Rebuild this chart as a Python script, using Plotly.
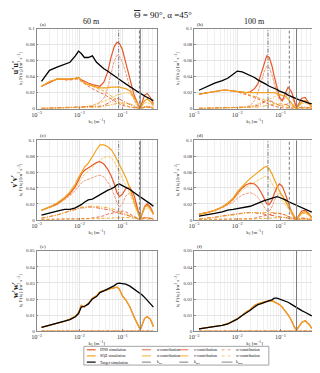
import plotly.graph_objects as go
from plotly.subplots import make_subplots

# wavenumber grids
k60 = [0.0013, 0.002, 0.003, 0.0045, 0.006, 0.008, 0.0095, 0.011, 0.013, 0.016, 0.02, 0.025, 0.03, 0.037, 0.045,
       0.055, 0.065, 0.075, 0.085, 0.1, 0.12, 0.15, 0.19, 0.23, 0.262, 0.29, 0.33, 0.38, 0.45, 0.53]
k100 = [0.0013, 0.002, 0.003, 0.0045, 0.006, 0.008, 0.01, 0.013, 0.016, 0.02, 0.025, 0.03, 0.036, 0.042, 0.048,
        0.055, 0.063, 0.072, 0.083, 0.095, 0.11, 0.13, 0.15, 0.18, 0.21, 0.235, 0.27, 0.31, 0.37, 0.45, 0.53]

# characteristic wavenumbers
km1_60, km2_60, kmm_60 = 0.082, 0.250, 0.262
km1_100, km2_100, kmm_100 = 0.0515, 0.160, 0.235

# (a) u'u' 60 m
a_target = [0.034, 0.048, 0.052, 0.055, 0.058, 0.066, 0.072, 0.069, 0.064, 0.064, 0.066, 0.058, 0.054, 0.050, 0.047,
            0.044, 0.041, 0.039, 0.037, 0.034, 0.031, 0.028, 0.024, 0.021, 0.019, 0.018, 0.016, 0.014, 0.012, 0.010]
a_dns = [0.028, 0.033, 0.037, 0.037, 0.037, 0.038, 0.039, 0.036, 0.034, 0.032, 0.030, 0.029, 0.028, 0.033, 0.045,
         0.065, 0.078, 0.083, 0.082, 0.074, 0.058, 0.036, 0.016, 0.006, 0.001, 0.008, 0.017, 0.019, 0.014, 0.006]
a_sqz = [0.028, 0.034, 0.037, 0.037, 0.037, 0.038, 0.039, 0.035, 0.032, 0.030, 0.028, 0.027, 0.026, 0.026, 0.026,
         0.027, 0.027, 0.027, 0.027, 0.026, 0.025, 0.022, 0.014, 0.006, 0.001, 0.005, 0.010, 0.012, 0.009, 0.004]
a_dns_u = [0.028, 0.033, 0.037, 0.036, 0.036, 0.037, 0.037, 0.034, 0.031, 0.028, 0.025, 0.022, 0.020, 0.018, 0.015,
           0.012, 0.010, 0.008, 0.006, 0.004, 0.003, 0.002, 0.001, 0.0005, 0.0, 0.001, 0.002, 0.002, 0.001, 0.0005]
a_sqz_u = [0.028, 0.034, 0.037, 0.036, 0.036, 0.037, 0.038, 0.034, 0.032, 0.030, 0.028, 0.026, 0.024, 0.022, 0.019,
           0.016, 0.013, 0.010, 0.008, 0.006, 0.004, 0.002, 0.001, 0.0005, 0.0, 0.001, 0.001, 0.002, 0.001, 0.0005]
a_dns_v = [0.0005, 0.0008, 0.001, 0.001, 0.0012, 0.0015, 0.0016, 0.0017, 0.0018, 0.002, 0.002, 0.0025, 0.003, 0.004,
           0.006, 0.009, 0.012, 0.013, 0.012, 0.010, 0.007, 0.004, 0.002, 0.001, 0.0, 0.001, 0.002, 0.003, 0.002, 0.001]
a_sqz_v = [0.0005, 0.0007, 0.0008, 0.001, 0.001, 0.0012, 0.0013, 0.0014, 0.0015, 0.0017, 0.0019, 0.002, 0.002, 0.003,
           0.004, 0.005, 0.006, 0.007, 0.007, 0.007, 0.007, 0.006, 0.004, 0.002, 0.0, 0.001, 0.002, 0.002, 0.001, 0.0005]
a_dns_w = [0.0, 0.0002, 0.0004, 0.0006, 0.0008, 0.001, 0.0012, 0.0015, 0.002, 0.003, 0.004, 0.006, 0.008, 0.013, 0.025,
           0.045, 0.060, 0.067, 0.066, 0.058, 0.045, 0.026, 0.010, 0.003, 0.0, 0.004, 0.010, 0.012, 0.009, 0.004]
a_sqz_w = [0.0, 0.0002, 0.0004, 0.0006, 0.0008, 0.001, 0.0012, 0.0015, 0.002, 0.003, 0.004, 0.005, 0.007, 0.009, 0.011,
           0.013, 0.015, 0.017, 0.018, 0.019, 0.020, 0.019, 0.012, 0.005, 0.0, 0.003, 0.007, 0.008, 0.006, 0.003]

# (b) u'u' 100 m
b_target = [0.023, 0.028, 0.032, 0.035, 0.038, 0.043, 0.047, 0.046, 0.044, 0.042, 0.039, 0.036, 0.034, 0.032, 0.030,
            0.028, 0.027, 0.026, 0.024, 0.022, 0.021, 0.019, 0.017, 0.015, 0.013, 0.012, 0.011, 0.010, 0.009, 0.007, 0.006]
b_dns = [0.018, 0.020, 0.022, 0.023, 0.023, 0.022, 0.021, 0.020, 0.020, 0.021, 0.025, 0.031, 0.044, 0.057, 0.066,
         0.064, 0.054, 0.040, 0.025, 0.014, 0.010, 0.018, 0.027, 0.021, 0.008, 0.001, 0.007, 0.013, 0.014, 0.008, 0.002]
b_sqz = [0.018, 0.020, 0.022, 0.023, 0.023, 0.022, 0.021, 0.020, 0.020, 0.020, 0.020, 0.020, 0.020, 0.020, 0.020,
         0.020, 0.020, 0.020, 0.019, 0.018, 0.017, 0.015, 0.012, 0.007, 0.002, 0.0005, 0.004, 0.008, 0.010, 0.007, 0.002]
b_dns_u = [0.018, 0.020, 0.022, 0.023, 0.023, 0.022, 0.021, 0.019, 0.018, 0.016, 0.014, 0.012, 0.010, 0.008, 0.006,
           0.005, 0.004, 0.003, 0.002, 0.0015, 0.001, 0.001, 0.001, 0.0005, 0.0003, 0.0, 0.0005, 0.001, 0.001, 0.0005, 0.0002]
b_sqz_u = [0.018, 0.020, 0.022, 0.023, 0.023, 0.022, 0.021, 0.020, 0.019, 0.017, 0.015, 0.014, 0.012, 0.011, 0.010,
           0.009, 0.008, 0.006, 0.005, 0.004, 0.003, 0.002, 0.0015, 0.001, 0.0005, 0.0, 0.0005, 0.001, 0.001, 0.0005, 0.0002]
b_dns_v = [0.0005, 0.0006, 0.0007, 0.0008, 0.0009, 0.001, 0.001, 0.0012, 0.0015, 0.002, 0.003, 0.004, 0.006, 0.008,
           0.010, 0.010, 0.009, 0.007, 0.005, 0.004, 0.004, 0.005, 0.006, 0.004, 0.001, 0.0, 0.001, 0.002, 0.002, 0.001, 0.0005]
b_sqz_v = [0.0004, 0.0005, 0.0006, 0.0007, 0.0008, 0.0009, 0.001, 0.001, 0.0012, 0.0015, 0.002, 0.002, 0.003, 0.003,
           0.004, 0.005, 0.005, 0.006, 0.006, 0.006, 0.006, 0.005, 0.004, 0.003, 0.001, 0.0, 0.001, 0.001, 0.001, 0.0007, 0.0003]
b_dns_w = [0.0, 0.0002, 0.0004, 0.0006, 0.0008, 0.001, 0.0012, 0.0015, 0.002, 0.004, 0.010, 0.020, 0.034, 0.046, 0.053,
           0.051, 0.043, 0.031, 0.019, 0.011, 0.009, 0.014, 0.019, 0.015, 0.006, 0.001, 0.005, 0.009, 0.010, 0.006, 0.002]
b_sqz_w = [0.0, 0.0002, 0.0003, 0.0005, 0.0006, 0.0008, 0.001, 0.001, 0.002, 0.003, 0.004, 0.006, 0.008, 0.009, 0.011,
           0.012, 0.013, 0.015, 0.016, 0.017, 0.017, 0.016, 0.013, 0.008, 0.003, 0.0005, 0.003, 0.006, 0.007, 0.005, 0.002]

# (c) v'v' 60 m
c_target = [0.006, 0.009, 0.011, 0.013, 0.013, 0.015, 0.017, 0.019, 0.022, 0.025, 0.026, 0.029, 0.032, 0.034, 0.037,
            0.039, 0.041, 0.044, 0.045, 0.043, 0.041, 0.038, 0.034, 0.031, 0.029, 0.028, 0.025, 0.023, 0.020, 0.017]
c_dns = [0.012, 0.016, 0.020, 0.027, 0.033, 0.042, 0.050, 0.057, 0.062, 0.065, 0.068, 0.072, 0.073, 0.070, 0.064,
         0.055, 0.045, 0.034, 0.029, 0.032, 0.039, 0.041, 0.030, 0.013, 0.001, 0.008, 0.017, 0.020, 0.016, 0.008]
c_sqz = [0.012, 0.016, 0.021, 0.028, 0.035, 0.045, 0.053, 0.060, 0.066, 0.071, 0.080, 0.088, 0.094, 0.094, 0.092,
         0.088, 0.082, 0.076, 0.070, 0.062, 0.053, 0.040, 0.022, 0.009, 0.001, 0.008, 0.016, 0.018, 0.014, 0.007]
c_dns_u = [0.0005, 0.0005, 0.0006, 0.0007, 0.0008, 0.001, 0.001, 0.0012, 0.0014, 0.0016, 0.002, 0.003, 0.004, 0.005,
           0.007, 0.008, 0.009, 0.010, 0.011, 0.011, 0.010, 0.007, 0.004, 0.002, 0.0, 0.001, 0.002, 0.002, 0.001, 0.0005]
c_sqz_u = [0.0003, 0.0003, 0.0004, 0.0005, 0.0005, 0.0006, 0.0007, 0.0008, 0.0009, 0.001, 0.0012, 0.0014, 0.0016,
           0.002, 0.002, 0.0025, 0.003, 0.003, 0.003, 0.003, 0.003, 0.0025, 0.0015, 0.0008, 0.0, 0.0005, 0.001, 0.001,
           0.0008, 0.0004]
c_dns_v = [0.002, 0.004, 0.006, 0.009, 0.011, 0.013, 0.014, 0.015, 0.015, 0.016, 0.016, 0.015, 0.015, 0.014, 0.013,
           0.012, 0.010, 0.009, 0.008, 0.007, 0.006, 0.005, 0.003, 0.001, 0.0, 0.002, 0.003, 0.003, 0.002, 0.001]
c_sqz_v = [0.002, 0.004, 0.006, 0.009, 0.012, 0.014, 0.015, 0.016, 0.016, 0.017, 0.017, 0.017, 0.016, 0.016, 0.015,
           0.014, 0.013, 0.011, 0.010, 0.009, 0.007, 0.005, 0.003, 0.001, 0.0, 0.002, 0.003, 0.003, 0.002, 0.001]
c_dns_w = [0.012, 0.015, 0.019, 0.025, 0.030, 0.037, 0.042, 0.046, 0.049, 0.051, 0.053, 0.055, 0.056, 0.054, 0.048,
           0.040, 0.031, 0.021, 0.016, 0.020, 0.030, 0.034, 0.025, 0.011, 0.001, 0.007, 0.015, 0.018, 0.014, 0.007]
c_sqz_w = [0.012, 0.015, 0.019, 0.025, 0.031, 0.040, 0.046, 0.052, 0.057, 0.061, 0.066, 0.071, 0.075, 0.078, 0.080,
           0.078, 0.073, 0.066, 0.060, 0.052, 0.044, 0.033, 0.018, 0.007, 0.001, 0.007, 0.013, 0.015, 0.012, 0.006]

# (d) v'v' 100 m
d_target = [0.0045, 0.006, 0.008, 0.010, 0.012, 0.013, 0.014, 0.015, 0.016, 0.017, 0.019, 0.021, 0.023, 0.024, 0.025,
            0.026, 0.027, 0.028, 0.029, 0.028, 0.027, 0.025, 0.023, 0.021, 0.019, 0.018, 0.016, 0.015, 0.013, 0.011, 0.0095]
d_dns = [0.007, 0.009, 0.012, 0.016, 0.020, 0.026, 0.033, 0.040, 0.044, 0.046, 0.045, 0.041, 0.034, 0.026, 0.020,
         0.019, 0.024, 0.033, 0.041, 0.045, 0.042, 0.032, 0.022, 0.010, 0.003, 0.0005, 0.006, 0.011, 0.012, 0.008, 0.003]
d_sqz = [0.007, 0.009, 0.012, 0.016, 0.021, 0.027, 0.035, 0.042, 0.047, 0.052, 0.056, 0.060, 0.063, 0.066, 0.067,
         0.064, 0.058, 0.050, 0.043, 0.036, 0.030, 0.022, 0.017, 0.010, 0.004, 0.0005, 0.005, 0.009, 0.010, 0.007, 0.002]
d_dns_u = [0.0003, 0.0003, 0.0004, 0.0005, 0.0005, 0.0006, 0.0007, 0.0008, 0.001, 0.0012, 0.002, 0.003, 0.004, 0.005,
           0.006, 0.007, 0.008, 0.008, 0.008, 0.008, 0.007, 0.006, 0.004, 0.003, 0.001, 0.0, 0.001, 0.001, 0.001, 0.0005,
           0.0002]
d_sqz_u = [0.0002, 0.0002, 0.0003, 0.0003, 0.0004, 0.0004, 0.0005, 0.0006, 0.0007, 0.0008, 0.001, 0.0012, 0.0015,
           0.002, 0.002, 0.0025, 0.003, 0.003, 0.003, 0.003, 0.003, 0.0025, 0.002, 0.001, 0.0005, 0.0, 0.0005, 0.0008,
           0.0008, 0.0005, 0.0002]
d_dns_v = [0.001, 0.002, 0.003, 0.005, 0.006, 0.007, 0.008, 0.009, 0.009, 0.009, 0.009, 0.008, 0.008, 0.007, 0.006,
           0.006, 0.005, 0.005, 0.004, 0.004, 0.003, 0.003, 0.002, 0.001, 0.0005, 0.0, 0.001, 0.002, 0.002, 0.001, 0.0005]
d_sqz_v = [0.001, 0.002, 0.003, 0.004, 0.005, 0.006, 0.007, 0.008, 0.008, 0.009, 0.009, 0.009, 0.009, 0.009, 0.009,
           0.009, 0.009, 0.009, 0.009, 0.008, 0.007, 0.006, 0.004, 0.002, 0.001, 0.0, 0.001, 0.002, 0.002, 0.001, 0.0005]
d_dns_w = [0.007, 0.009, 0.011, 0.015, 0.018, 0.022, 0.027, 0.031, 0.033, 0.034, 0.032, 0.028, 0.022, 0.016, 0.011,
           0.011, 0.016, 0.024, 0.030, 0.033, 0.031, 0.024, 0.016, 0.007, 0.002, 0.0005, 0.004, 0.008, 0.009, 0.006, 0.002]
d_sqz_w = [0.007, 0.009, 0.011, 0.015, 0.019, 0.025, 0.031, 0.037, 0.041, 0.044, 0.047, 0.050, 0.052, 0.054, 0.055,
           0.052, 0.046, 0.040, 0.034, 0.029, 0.024, 0.018, 0.014, 0.008, 0.003, 0.0005, 0.004, 0.007, 0.008, 0.006, 0.002]

# (e) w'w' 60 m
e_target = [0.0024, 0.0037, 0.0050, 0.0062, 0.0072, 0.0090, 0.0110, 0.0150, 0.0155, 0.0168, 0.0200, 0.0215, 0.0240,
            0.0250, 0.0260, 0.0275, 0.0283, 0.0296, 0.0298, 0.0296, 0.0292, 0.0280, 0.0262, 0.0245, 0.0235, 0.0225,
            0.0210, 0.0190, 0.0170, 0.0150]
e_dns = [0.0024, 0.0037, 0.0050, 0.0062, 0.0075, 0.0092, 0.0115, 0.0160, 0.0150, 0.0172, 0.0205, 0.0220, 0.0245,
         0.0250, 0.0258, 0.0265, 0.0272, 0.0274, 0.0262, 0.0220, 0.0195, 0.0150, 0.0085, 0.0040, 0.0010, 0.0040,
         0.0080, 0.0090, 0.0075, 0.0030]
e_sqz = [0.0024, 0.0037, 0.0050, 0.0062, 0.0075, 0.0092, 0.0115, 0.0160, 0.0150, 0.0172, 0.0205, 0.0220, 0.0245,
         0.0250, 0.0258, 0.0265, 0.0272, 0.0274, 0.0262, 0.0220, 0.0195, 0.0150, 0.0085, 0.0040, 0.0010, 0.0040,
         0.0080, 0.0090, 0.0075, 0.0030]
e_contrib = [0.0, 0.0, 0.0, 0.0, 0.0, 0.0, 0.0, 0.0, 0.0, 0.0, 0.0, 0.0, 0.0, 0.0, 0.0,
             0.0, 0.0, 0.0, 0.0, 0.0, 0.0, 0.0, 0.0, 0.0, 0.0, 0.0, 0.0, 0.0, 0.0, 0.0]

# (f) w'w' 100 m
f_target = [0.0015, 0.0022, 0.0029, 0.0037, 0.0045, 0.0060, 0.0075, 0.0098, 0.0112, 0.0130, 0.0150, 0.0165, 0.0172,
            0.0180, 0.0185, 0.0190, 0.0195, 0.0205, 0.0205, 0.0200, 0.0195, 0.0188, 0.0180, 0.0167, 0.0155, 0.0148,
            0.0138, 0.0128, 0.0118, 0.0105, 0.0095]
f_dns = [0.0015, 0.0022, 0.0029, 0.0037, 0.0046, 0.0062, 0.0078, 0.0100, 0.0120, 0.0135, 0.0160, 0.0170, 0.0178,
         0.0182, 0.0185, 0.0188, 0.0190, 0.0182, 0.0175, 0.0165, 0.0150, 0.0125, 0.0102, 0.0065, 0.0025, 0.0008,
         0.0030, 0.0055, 0.0065, 0.0045, 0.0018]
f_sqz = [0.0015, 0.0022, 0.0029, 0.0037, 0.0046, 0.0062, 0.0078, 0.0100, 0.0120, 0.0135, 0.0160, 0.0170, 0.0178,
         0.0182, 0.0185, 0.0188, 0.0190, 0.0182, 0.0175, 0.0165, 0.0150, 0.0125, 0.0102, 0.0065, 0.0025, 0.0008,
         0.0030, 0.0055, 0.0065, 0.0045, 0.0018]
f_contrib = [0.0, 0.0, 0.0, 0.0, 0.0, 0.0, 0.0, 0.0, 0.0, 0.0, 0.0, 0.0, 0.0, 0.0, 0.0, 0.0,
             0.0, 0.0, 0.0, 0.0, 0.0, 0.0, 0.0, 0.0, 0.0, 0.0, 0.0, 0.0, 0.0, 0.0, 0.0]

DNS = '#E5592A'
SQZ = '#F1A31C'
DNS_L = '#F09A7E'
SQZ_L = '#F7CB6E'
GREY = '#7a7a7a'
FONT = 'Liberation Serif'
DASH = '3px,2px'
DASHDOT = '4px,1.5px,1px,1.5px'
DOT = '3px,1px'

# the page body keeps its 8px margin, so the figure is 8px smaller than the window
W, H = 312, 365


def px(x):
    return (x - 8) / W


def py(y):
    return 1 - (y - 8) / H


fig = make_subplots(rows=3, cols=2)


def add_panel(row, col, k, lines, target, verts, ymax):
    for y, color, dash, width in lines:
        fig.add_trace(go.Scatter(x=k, y=y, mode='lines', line=dict(color=color, dash=dash, width=width),
                                 showlegend=False, hoverinfo='skip'), row=row, col=col)
    fig.add_trace(go.Scatter(x=k, y=target, mode='lines', line=dict(color='black', width=1.3),
                             showlegend=False), row=row, col=col)
    for kv, dash in verts:
        fig.add_trace(go.Scatter(x=[kv, kv], y=[0, ymax], mode='lines', line=dict(color=GREY, dash=dash, width=1),
                                 showlegend=False, hoverinfo='skip'), row=row, col=col)


def contrib_lines(dns, sqz, du, su, dv, sv, dw, sw):
    return [(dw, DNS_L, DOT, 1.0), (sw, SQZ_L, DOT, 1.0),
            (dv, DNS, DASHDOT, 0.9), (sv, SQZ, DASHDOT, 0.9),
            (du, DNS, DASH, 0.9), (su, SQZ, DASH, 0.9),
            (dns, DNS, 'solid', 1.2), (sqz, SQZ, 'solid', 1.2)]


verts60 = [(km1_60, DASHDOT), (km2_60, DASH), (kmm_60, 'solid')]
verts100 = [(km1_100, DASHDOT), (km2_100, DASH), (kmm_100, 'solid')]

add_panel(1, 1, k60, contrib_lines(a_dns, a_sqz, a_dns_u, a_sqz_u, a_dns_v, a_sqz_v, a_dns_w, a_sqz_w),
          a_target, verts60, 0.1)
add_panel(1, 2, k100, contrib_lines(b_dns, b_sqz, b_dns_u, b_sqz_u, b_dns_v, b_sqz_v, b_dns_w, b_sqz_w),
          b_target, verts100, 0.1)
add_panel(2, 1, k60, contrib_lines(c_dns, c_sqz, c_dns_u, c_sqz_u, c_dns_v, c_sqz_v, c_dns_w, c_sqz_w),
          c_target, verts60, 0.1)
add_panel(2, 2, k100, contrib_lines(d_dns, d_sqz, d_dns_u, d_sqz_u, d_dns_v, d_sqz_v, d_dns_w, d_sqz_w),
          d_target, verts100, 0.1)
add_panel(3, 1, k60, contrib_lines(e_dns, e_sqz, e_contrib, e_contrib, e_contrib, e_contrib, e_contrib, e_contrib),
          e_target, [(kmm_60, 'solid')], 0.05)
add_panel(3, 2, k100, contrib_lines(f_dns, f_sqz, f_contrib, f_contrib, f_contrib, f_contrib, f_contrib, f_contrib),
          f_target, [(kmm_100, 'solid')], 0.05)

xdom = {1: [px(32), px(154)], 2: [px(192), px(315)]}
ydom = {1: [py(108), py(27)], 2: [py(220.7), py(140)], 3: [py(333.7), py(252)]}
tick_font = dict(family=FONT, size=5, color='#333')
title_font = dict(family=FONT, size=5, color='#222')

for r in (1, 2, 3):
    for c in (1, 2):
        fig.update_xaxes(type='log', range=[-3, -0.2], dtick=1, exponentformat='power', domain=xdom[c],
                         showgrid=True, gridcolor='#e4e4e4', gridwidth=0.5,
                         minor=dict(dtick='D1', showgrid=True, gridcolor='#f0f0f0', gridwidth=0.5),
                         showline=True, linecolor='#8a8a8a', linewidth=0.6, mirror=True,
                         ticks='inside', ticklen=2, tickcolor='#8a8a8a', tickfont=tick_font,
                         title=dict(text='k<sub>1</sub> [m<sup>−1</sup>]', font=title_font, standoff=2),
                         zeroline=False, row=r, col=c)
        fig.update_yaxes(range=[0, 0.1 if r < 3 else 0.05], dtick=0.02 if r < 3 else 0.01, domain=ydom[r],
                         showgrid=True, gridcolor='#e4e4e4', gridwidth=0.5,
                         showline=True, linecolor='#8a8a8a', linewidth=0.6, mirror=True,
                         ticks='inside', ticklen=2, tickcolor='#8a8a8a', tickfont=tick_font,
                         title=dict(text='k<sub>1</sub> F(k<sub>1</sub>) [m<sup>2</sup> s<sup>−2</sup>]',
                                    font=dict(family=FONT, size=5, color='#222'), standoff=3),
                         zeroline=False, row=r, col=c)

ann = []
ann.append(dict(text="<span style='text-decoration:overline'>Θ</span> = 90°, α =45°", x=px(160), y=py(13),
                font=dict(size=9)))
ann.append(dict(text='60 m', x=px(88), y=py(20), font=dict(size=8)))
ann.append(dict(text='100 m', x=px(253), y=py(20), font=dict(size=8)))
for lab, x, y in [('(a)', 33, 22.5), ('(b)', 193, 22.5), ('(c)', 33, 135.7),
                  ('(d)', 193, 135.7), ('(e)', 33, 248), ('(f)', 193, 248)]:
    ann.append(dict(text=lab, x=px(x), y=py(y), xanchor='left', font=dict(size=5)))
for lab, y in [("<b>u′u′</b>", 66), ("<b>v′v′</b>", 181), ("<b>w′w′</b>", 292)]:
    ann.append(dict(text=lab, x=px(10), y=py(y), textangle=-90, font=dict(size=8)))

# legend drawn by hand: 4 columns x 3 rows
shapes = [dict(type='rect', xref='paper', yref='paper', x0=px(80), x1=px(268), y0=py(368), y1=py(349),
               line=dict(color='#8c8c8c', width=0.8), fillcolor='white', layer='above')]
rows_y = [352.5, 358.7, 365]
cols_x = [(83, 92, 94), (139, 150, 152), (177, 188, 190), (220, 231, 233)]
legend_items = [
    [('DNS simulation', DNS, 'solid', 1.2), ('u-contribution', DNS, 'dash', 0.9),
     ('v-contribution', DNS, 'dashdot', 0.9), ('w-contribution', DNS_L, 'dot', 0.9)],
    [('SQZ simulation', SQZ, 'solid', 1.2), ('u-contribution', SQZ, 'dash', 0.9),
     ('v-contribution', SQZ, 'dashdot', 0.9), ('w-contribution', SQZ_L, 'dot', 0.9)],
    [('Target simulation', 'black', 'solid', 1.2), ('k<sub>m1</sub>', '#444', 'dashdot', 0.7),
     ('k<sub>m2</sub>', '#444', 'dash', 0.7), ('k<sub>mm</sub>', GREY, 'solid', 0.9)],
]
for ri, row_items in enumerate(legend_items):
    for ci, (txt, color, dash, width) in enumerate(row_items):
        x0, x1, xt = cols_x[ci]
        shapes.append(dict(type='line', xref='paper', yref='paper', x0=px(x0), x1=px(x1),
                           y0=py(rows_y[ri]), y1=py(rows_y[ri]), line=dict(color=color, dash=dash, width=width)))
        ann.append(dict(text=txt, x=px(xt), y=py(rows_y[ri]), xanchor='left', font=dict(size=4)))

for a in ann:
    a.setdefault('xref', 'paper')
    a.setdefault('yref', 'paper')
    a.setdefault('showarrow', False)
    a.setdefault('yanchor', 'middle')
    a.setdefault('xanchor', 'center')
    a['font'] = dict(family=FONT, color='#111', **a['font'])

fig.update_layout(width=W, height=H, margin=dict(l=0, r=0, t=0, b=0),
                  paper_bgcolor='white', plot_bgcolor='white', showlegend=False,
                  font=dict(family=FONT), annotations=ann, shapes=shapes)

fig.write_html("out.html")
